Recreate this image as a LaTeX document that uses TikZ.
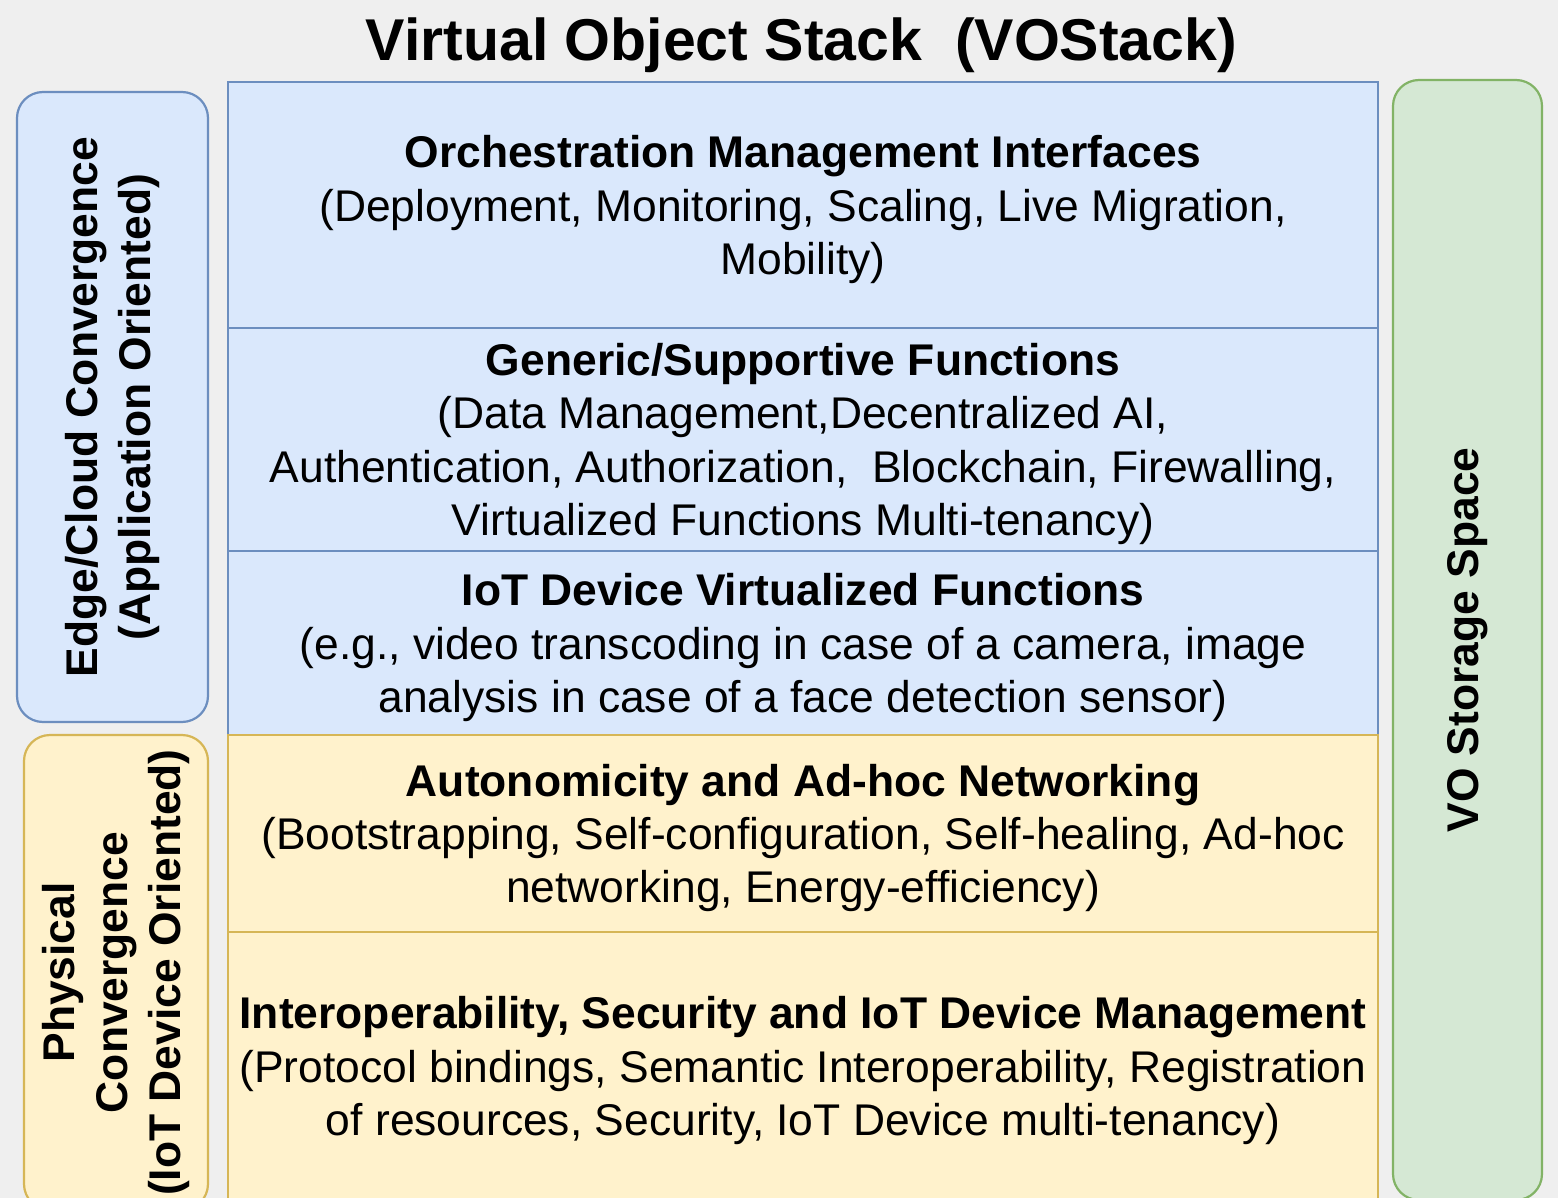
\documentclass[tikz,border=0pt]{standalone}
\usepackage{fontspec}
\setmainfont{Liberation Sans}
\usetikzlibrary{positioning}
\definecolor{bluefill}{HTML}{DAE8FC}
\definecolor{bluedraw}{HTML}{6C8EBF}
\definecolor{yellowfill}{HTML}{FFF2CC}
\definecolor{yellowdraw}{HTML}{D6B656}
\definecolor{greenfill}{HTML}{D5E8D4}
\definecolor{greendraw}{HTML}{82B366}
\definecolor{bggray}{HTML}{EFEFEF}
\tikzstyle{layer} = [rectangle,
minimum width=575pt,
outer sep=0pt, inner sep=0pt,
line width=1.1pt,
align=center,
text depth=-1.2pt,
font=\fontsize{22.2}{26.6}\selectfont]
\tikzstyle{cloudlayer} = [layer, draw=bluedraw, fill=bluefill]
\tikzstyle{devicelayer} = [layer, draw=yellowdraw, fill=yellowfill]
\tikzstyle{sidebox} = [rectangle, rounded corners=13pt,
rotate=90,
line width=1.1pt,
align=center,
font=\fontsize{22.2}{26.6}\selectfont\bfseries]

\begin{document}
\begin{tikzpicture}[node distance=0pt]

    \path[fill=bggray, use as bounding box] (0,0) rectangle (779pt,-599pt);

    \node (title) at (400.75pt,-22.5pt) {\fontsize{29.5}{34}\selectfont\bfseries Virtual Object Stack\ \ (VOStack)};

    % the stack
    \node (orch) [cloudlayer, minimum height=123pt, anchor=north west] at (114pt,-41pt) {\textbf{Orchestration Management Interfaces}\\(Deployment, Monitoring, Scaling, Live Migration,\\Mobility)};
    \node (generic) [cloudlayer, minimum height=111.5pt, below=of orch] {\textbf{Generic/Supportive Functions}\\(Data Management,Decentralized AI,\\Authentication, Authorization,\ \ Blockchain, Firewalling,\\Virtualized Functions Multi-tenancy)};
    \node (iotvf) [cloudlayer, minimum height=92pt, below=of generic] {\textbf{IoT Device Virtualized Functions}\\(e.g., video transcoding in case of a camera, image\\analysis in case of a face detection sensor)};
    \node (adhoc) [devicelayer, minimum height=98.5pt, below=of iotvf] {\textbf{Autonomicity and Ad-hoc Networking}\\(Bootstrapping, Self-configuration, Self-healing, Ad-hoc\\networking, Energy-efficiency)};
    \node (interop) [devicelayer, minimum height=134pt, below=of adhoc] {\textbf{Interoperability, Security and IoT Device Management}\\(Protocol bindings, Semantic Interoperability, Registration\\of resources, Security, IoT Device multi-tenancy)};

    % side boxes
    \node (edgecloud) [sidebox, draw=bluedraw, fill=bluefill, minimum width=315pt, minimum height=95.5pt] at (56.25pt,-203.5pt) {Edge/Cloud Convergence\\(Application Oriented)};
    \node (physical) [sidebox, draw=yellowdraw, fill=yellowfill, minimum width=237.5pt, minimum height=92pt] at (58pt,-486.25pt) {Physical\\Convergence\\(IoT Device Oriented)};
    \node (storage) [sidebox, draw=greendraw, fill=greenfill, minimum width=560pt, minimum height=74.5pt] at (733.75pt,-320pt) {VO Storage Space};

\end{tikzpicture}
\end{document}
